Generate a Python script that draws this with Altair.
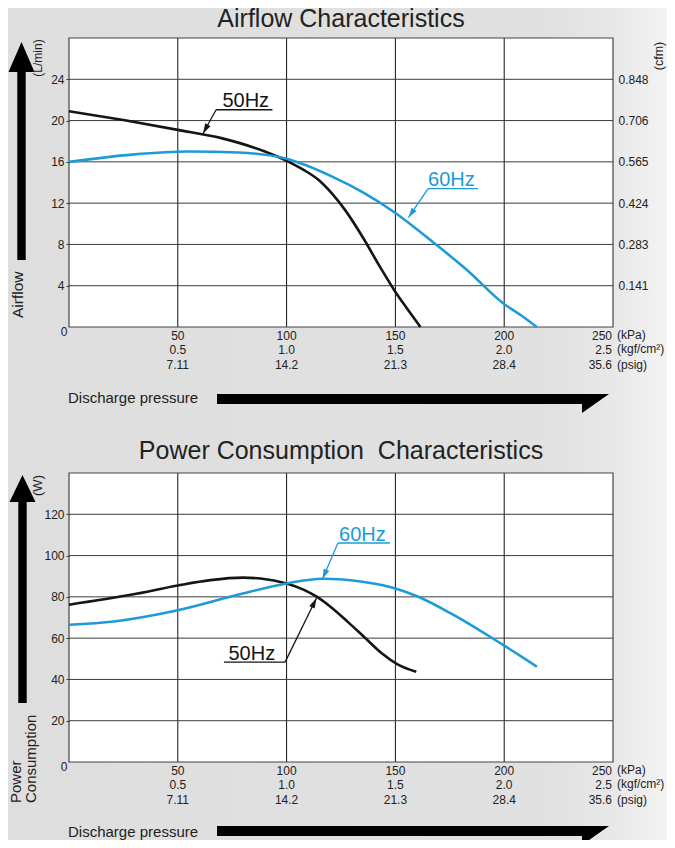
import math
import altair as alt
import pandas as pd

FONT = "Liberation Sans"
INK = "#151515"
BLUE = "#1c9bd8"
TXT = "#222222"
GRID = "#3a3a3a"

# ---------------- data ----------------
# Airflow (L/min) vs discharge pressure (kPa)
air50_kpa = [0, 25, 50, 70, 90, 100, 108, 115, 121, 127, 135, 143, 150, 155, 161.5]
air50_lpm = [20.9, 20.05, 19.1, 18.3, 17.0, 16.1, 15.2, 14.2, 12.9, 11.3, 8.7, 5.8, 3.4, 1.9, 0.0]
air60_kpa = [0, 29, 55, 78, 100, 120.7, 135.5, 150, 168, 183, 199.5, 207.7, 215]
air60_lpm = [16.0, 16.7, 17.0, 16.9, 16.3, 14.6, 13.0, 11.05, 8.1, 5.5, 2.3, 1.14, 0.0]

# Power consumption (W) vs discharge pressure (kPa)
pow50_kpa = [0, 29, 50, 65, 80, 88, 100, 108, 114, 121, 128, 136, 144, 151, 159.6]
pow50_w = [76.2, 81.1, 85.5, 88.1, 89.3, 88.9, 86.5, 83.4, 80.0, 74.5, 68.0, 60.2, 52.4, 47.3, 43.7]
pow60_kpa = [0, 20.7, 50, 78, 100, 116.6, 135.5, 150, 160, 176.5, 199.5, 215]
pow60_w = [66.5, 68.1, 73.5, 81.1, 86.5, 88.8, 87.2, 84.1, 80.3, 71.4, 56.7, 46.2]

series = ["50Hz", "60Hz"]
series_colors = [INK, BLUE]

kpa_ticks = [50, 100, 150, 200, 250]
kpa_labels = ["50", "100", "150", "200", "250"]
kgf_labels = ["0.5", "1.0", "1.5", "2.0", "2.5"]
psig_labels = ["7.11", "14.2", "21.3", "28.4", "35.6"]
unit_labels = ["(kPa)", "(kgf/cm²)", "(psig)"]
vgrid_kpa = [50, 100, 150, 200]

air_ticks = [4, 8, 12, 16, 20, 24]
cfm_labels = ["0.141", "0.283", "0.424", "0.565", "0.706", "0.848"]
pow_ticks = [20, 40, 60, 80, 100, 120]

# series label annotations: text pos, underline, leader start, arrow tip
air_annot = pd.DataFrame({
    "label": ["50Hz", "60Hz"],
    "tk": [70.5, 165.0], "tv": [21.3, 13.65],
    "u1": [67.6, 165.0], "u2": [93.5, 188.0], "uv": [21.05, 13.4],
    "lk": [67.6, 165.0],
    "pk": [61.6, 156.0], "pv": [18.75, 10.6],
})
pow_annot = pd.DataFrame({
    "label": ["60Hz", "50Hz"],
    "tk": [124.1, 73.3], "tv": [107.1, 49.4],
    "u1": [123.6, 71.2], "u2": [147.5, 99.3], "uv": [106.1, 48.4],
    "lk": [123.6, 99.3],
    "pk": [116.5, 113.7], "pv": [88.7, 79.3],
})

# ---------------- layout constants ----------------
W = 544
H = 289
XMAX = 250
HEAD = "M0,0L0.3,1L-0.3,1Z"


def one(text=""):
    return pd.DataFrame({"t": [text]})


def px_text(text, x, y, size, angle=0, align="center", baseline="middle", color=TXT):
    kw = dict(font=FONT, fontSize=size, align=align, baseline=baseline, color=color)
    if angle:
        kw["angle"] = angle
    return alt.Chart(one(text)).mark_text(**kw).encode(
        x=alt.value(x), y=alt.value(y), text="t:N")


def vert_arrow(x, tip_y, length, head_len, head_half, shaft_half):
    h = length / 2.0
    hb = -1 + head_len / h
    a, s = head_half / h, shaft_half / h
    path = (f"M0,-1L{a:.4f},{hb:.4f}L{s:.4f},{hb:.4f}L{s:.4f},1"
            f"L{-s:.4f},1L{-s:.4f},{hb:.4f}L{-a:.4f},{hb:.4f}Z")
    return alt.Chart(one()).mark_point(shape=path, filled=True, opacity=1, strokeWidth=0,
                                       color="black", size=length * length).encode(
        x=alt.value(x), y=alt.value(tip_y + h))


def flat_arrow(x0, x1, top, bar_h=10, drop=19, back=27):
    cx, half = (x0 + x1) / 2.0, (x1 - x0) / 2.0
    cy = top + drop / 2.0
    pts = [(x0, top), (x1, top), (x1 - back, top + drop), (x1 - back, top + bar_h), (x0, top + bar_h)]
    path = "M" + "L".join(f"{(px - cx) / half:.4f},{(py - cy) / half:.4f}" for px, py in pts) + "Z"
    return alt.Chart(one()).mark_point(shape=path, filled=True, opacity=1, strokeWidth=0,
                                       color="black", size=(2 * half) ** 2).encode(
        x=alt.value(cx), y=alt.value(cy))


def panel(curve_df, ymax, yticks, annot, title, title_y, right_labels=None,
          left_texts=(), discharge_y=360, bar_top=356, background=False):
    xs = alt.Scale(domain=[0, XMAX], nice=False, zero=False)
    ys = alt.Scale(domain=[0, ymax], nice=False, zero=False)
    ppx = W / XMAX
    ppy = H / ymax
    cscale = alt.Scale(domain=series, range=series_colors)
    layers = []

    if background:
        grad = alt.LinearGradient(
            gradient="linear", x1=0, x2=1, y1=0, y2=0,
            stops=[alt.GradientStop(color="#dedede", offset=0),
                   alt.GradientStop(color="#e1e1e1", offset=0.82),
                   alt.GradientStop(color="#e8e8e8", offset=0.92),
                   alt.GradientStop(color="#f3f3f3", offset=1)])
        layers.append(alt.Chart(one()).mark_rect(fill=grad).encode(
            x=alt.value(-61), x2=alt.value(598), y=alt.value(-30), y2=alt.value(802)))

    layers.append(alt.Chart(one()).mark_rect(fill="white").encode(
        x=alt.value(0), x2=alt.value(W), y=alt.value(0), y2=alt.value(H)))

    layers.append(alt.Chart(pd.DataFrame({"k": vgrid_kpa})).mark_rule(
        color="#111111", strokeWidth=1).encode(x=alt.X("k:Q", scale=xs, axis=None)))

    left_axis = alt.Axis(orient="left", values=yticks, grid=False, domain=False, ticks=True,
                         tickSize=3, tickColor=GRID, labelFont=FONT, labelFontSize=12,
                         labelColor=TXT, labelPadding=2, title=None, zindex=1, format="d")
    layers.append(alt.Chart(pd.DataFrame({"v": yticks})).mark_rule(
        color=GRID, strokeWidth=1).encode(y=alt.Y("v:Q", scale=ys, axis=left_axis)))

    if right_labels:
        expr = " : ".join(f"datum.value == {v} ? '{l}'" for v, l in zip(yticks, right_labels)) + " : ''"
        right_axis = alt.Axis(orient="right", values=yticks, grid=False, domain=False, ticks=False,
                              labelFont=FONT, labelFontSize=12, labelColor=TXT, labelPadding=5,
                              labelExpr=expr, title=None, zindex=1)
        layers.append(alt.Chart(pd.DataFrame({"v": yticks})).mark_rule(opacity=0).encode(
            y=alt.Y("v:Q", scale=ys, axis=right_axis)))

    layers.append(alt.Chart(one()).mark_rect(filled=False, stroke="#444444", strokeWidth=1.2).encode(
        x=alt.value(0), x2=alt.value(W), y=alt.value(0), y2=alt.value(H)))

    # curves
    layers.append(alt.Chart(curve_df).mark_line(strokeWidth=2.6, interpolate="monotone").encode(
        x=alt.X("kpa:Q", scale=xs, axis=None),
        y=alt.Y("val:Q", scale=ys, axis=None),
        color=alt.Color("series:N", scale=cscale, legend=None)))

    # annotations
    ann = annot.copy()
    ann["ang"] = [
        (math.degrees(math.atan2((pk - lk) * ppx, (pv - uv) * ppy)) + 360) % 360
        for pk, lk, pv, uv in zip(ann.pk, ann.lk, ann.pv, ann.uv)]
    base = alt.Chart(ann)
    col = alt.Color("label:N", scale=cscale, legend=None)
    layers.append(base.mark_text(font=FONT, fontSize=20, align="left", baseline="alphabetic").encode(
        x=alt.X("tk:Q", scale=xs, axis=None), y=alt.Y("tv:Q", scale=ys, axis=None),
        text="label:N", color=col))
    layers.append(base.mark_rule(strokeWidth=1.3).encode(
        x=alt.X("u1:Q", scale=xs, axis=None), x2="u2:Q",
        y=alt.Y("uv:Q", scale=ys, axis=None), color=col))
    layers.append(base.mark_rule(strokeWidth=1.3).encode(
        x=alt.X("lk:Q", scale=xs, axis=None), x2="pk:Q",
        y=alt.Y("uv:Q", scale=ys, axis=None), y2="pv:Q", color=col))
    layers.append(base.mark_point(shape=HEAD, filled=True, opacity=1, strokeWidth=0, size=400).encode(
        x=alt.X("pk:Q", scale=xs, axis=None), y=alt.Y("pv:Q", scale=ys, axis=None),
        angle=alt.Angle("ang:Q", scale=None), color=col))

    # x tick label rows
    rows = pd.DataFrame({"kpa": kpa_ticks, "r1": kpa_labels, "r2": kgf_labels, "r3": psig_labels})
    for field, dy in (("r1", 8.5), ("r2", 23), ("r3", 37.5)):
        rb = alt.Chart(rows)
        layers.append(rb.mark_text(font=FONT, fontSize=12, color=TXT, align="center", baseline="middle")
                      .encode(x=alt.X("kpa:Q", scale=xs, axis=None), y=alt.value(H + dy), text=f"{field}:N")
                      .transform_filter("datum.kpa < 250"))
        layers.append(rb.mark_text(font=FONT, fontSize=12, color=TXT, align="right", baseline="middle", dx=-1)
                      .encode(x=alt.X("kpa:Q", scale=xs, axis=None), y=alt.value(H + dy), text=f"{field}:N")
                      .transform_filter("datum.kpa >= 250"))
    for u, dy in zip(unit_labels, (7.5, 22, 37.5)):
        layers.append(px_text(u, W + 4, H + dy, 12, align="left"))
    layers.append(px_text("0", -5, H + 4.5, 12))

    # titles and side texts
    layers.append(px_text(title, 272, title_y, 25, baseline="alphabetic"))
    for t in left_texts:
        layers.append(t)

    layers.append(px_text("Discharge pressure", -1, discharge_y, 15, align="left"))
    layers.append(flat_arrow(148, 540, bar_top))

    return alt.layer(*layers).resolve_axis(y="independent").properties(width=W, height=H)


air_df = pd.concat([
    pd.DataFrame({"kpa": air50_kpa, "val": air50_lpm, "series": "50Hz"}),
    pd.DataFrame({"kpa": air60_kpa, "val": air60_lpm, "series": "60Hz"}),
])
pow_df = pd.concat([
    pd.DataFrame({"kpa": pow50_kpa, "val": pow50_w, "series": "50Hz"}),
    pd.DataFrame({"kpa": pow60_kpa, "val": pow60_w, "series": "60Hz"}),
])

p1 = panel(
    air_df, 28, air_ticks, air_annot, "Airflow Characteristics", -11,
    right_labels=cfm_labels,
    left_texts=[
        vert_arrow(-47.5, 4, 218, 30, 13, 4.2),
        px_text("Airflow", -51, 280, 15.5, angle=270, align="left"),
        px_text("(L/min)", -31.5, 20, 12, angle=270),
        px_text("(cfm)", 590, 18, 12.5, angle=270),
    ],
    discharge_y=360, bar_top=356, background=True)

p2 = panel(
    pow_df, 140, pow_ticks, pow_annot, "Power Consumption\u00a0\u00a0Characteristics", -13.7,
    left_texts=[
        vert_arrow(-46.5, 2, 228, 27, 13, 4.2),
        px_text("Power", -53.5, 330, 15, angle=270, align="left"),
        px_text("Consumption", -38.5, 330, 15, angle=270, align="left"),
        px_text("(W)", -31.5, 12.5, 13, angle=270),
    ],
    discharge_y=358.5, bar_top=353)

chart = alt.vconcat(p1, p2, spacing=146, bounds="flush").properties(
    autosize=alt.AutoSizeParams(type="none"),
    padding={"left": 61, "top": 30, "right": 54, "bottom": 802},
    background="#e0e0e0",
).configure_view(stroke="transparent", strokeWidth=0)

chart.save("out.html", embed_options={"renderer": "svg", "actions": False})
